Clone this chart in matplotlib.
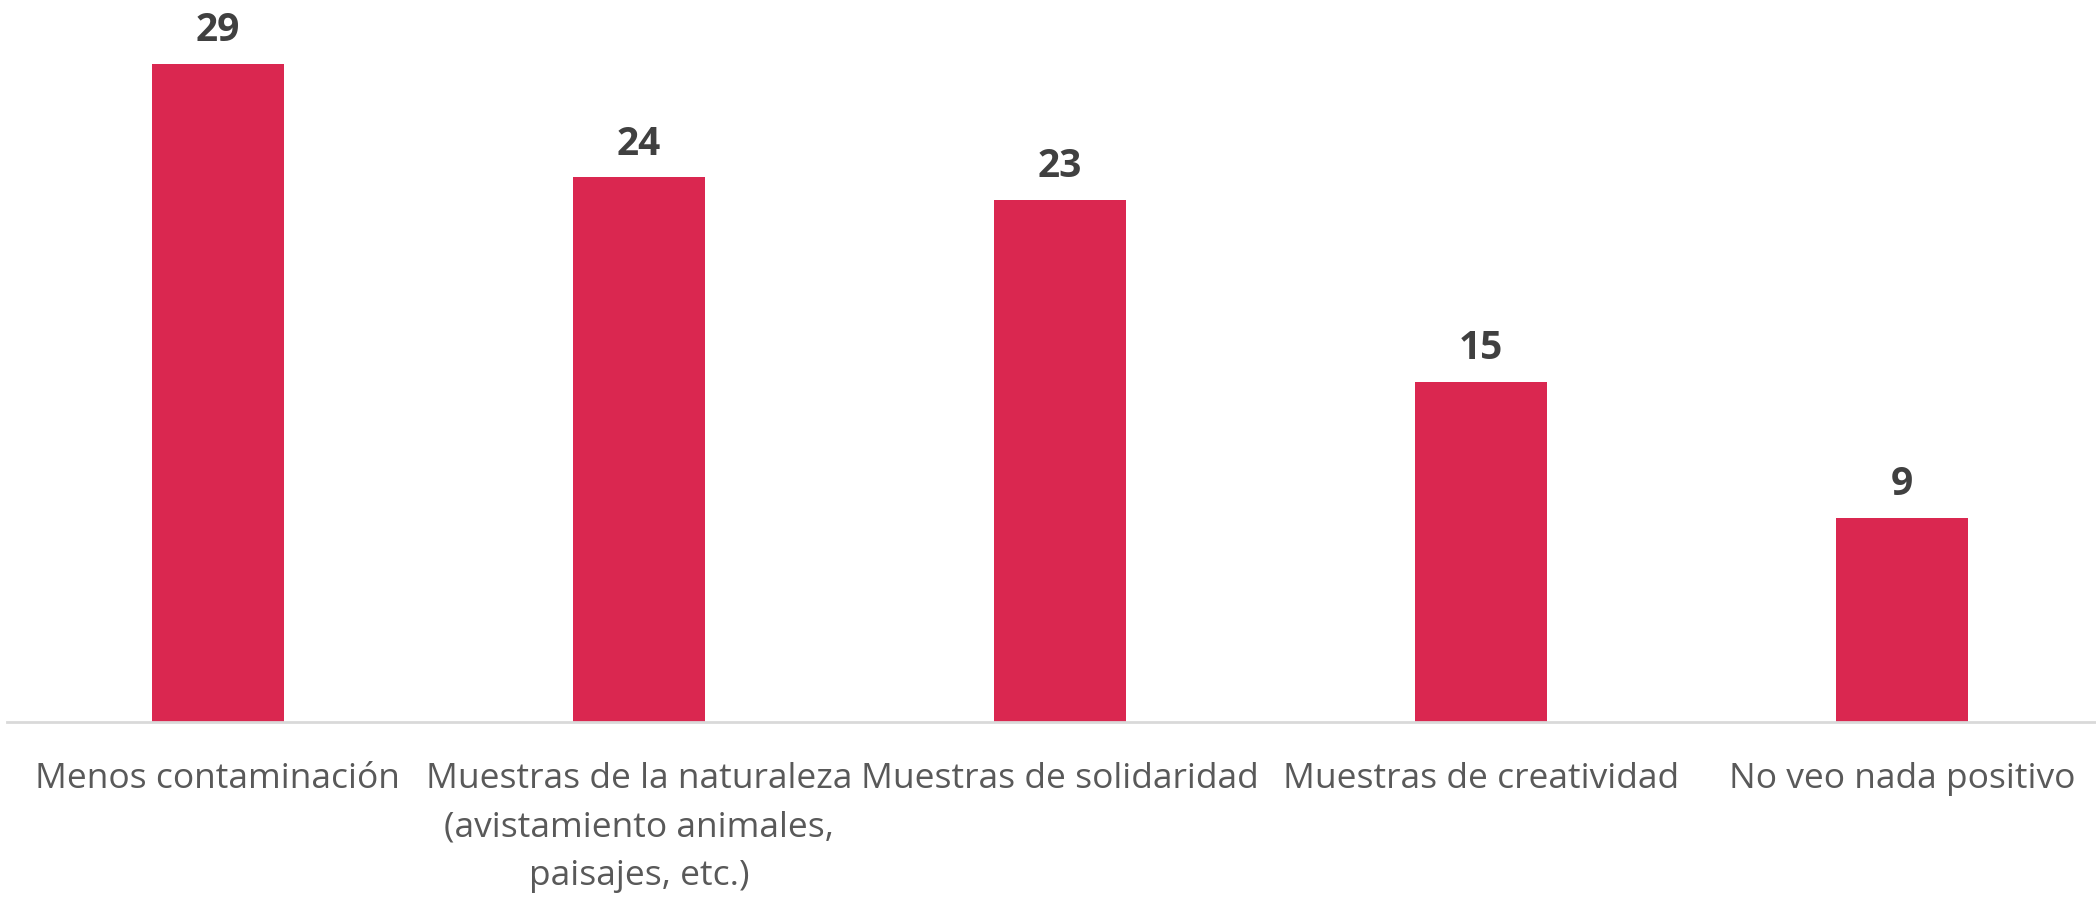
import matplotlib
matplotlib.use("Agg")
import matplotlib.pyplot as plt
import numpy as np

categories = [
    "Menos contaminación",
    "Muestras de la naturaleza\n(avistamiento animales,\npaisajes, etc.)",
    "Muestras de solidaridad",
    "Muestras de creatividad",
    "No veo nada positivo",
]
values = [29, 24, 23, 15, 9]

BAR_COLOR = "#DA2750"
LABEL_COLOR = "#404040"
TICK_COLOR = "#595959"

plt.rcParams['font.family'] = ['Open Sans', 'DejaVu Sans']

fig = plt.figure(figsize=(20.96, 8.98), dpi=100)
# axes placed in pixel terms: baseline at y=722 from top, starts at x=7
ax = fig.add_axes([7 / 2096, (898 - 722) / 898, (2096 - 7) / 2096, 722 / 898])

x = np.arange(len(categories))
bars = ax.bar(x, values, width=0.3135, color=BAR_COLOR, zorder=2)

for xi, v in zip(x, values):
    ax.annotate(str(v), (xi, v), xytext=(0, 10), textcoords="offset points",
                ha="center", va="bottom", fontsize=28, fontweight="bold",
                color=LABEL_COLOR)

ax.set_xlim(-0.501, 4.461)
ax.set_ylim(0, 722 / 22.69)

ax.set_xticks(x)
ax.set_xticklabels(categories, fontsize=25.5, color=TICK_COLOR, linespacing=1.55)
ax.tick_params(axis="x", length=0, pad=29)
ax.set_yticks([])

for side in ["top", "right", "left"]:
    ax.spines[side].set_visible(False)
ax.spines["bottom"].set_color("#D9D9D9")
ax.spines["bottom"].set_linewidth(2)

fig.savefig("out.png", dpi=100)
